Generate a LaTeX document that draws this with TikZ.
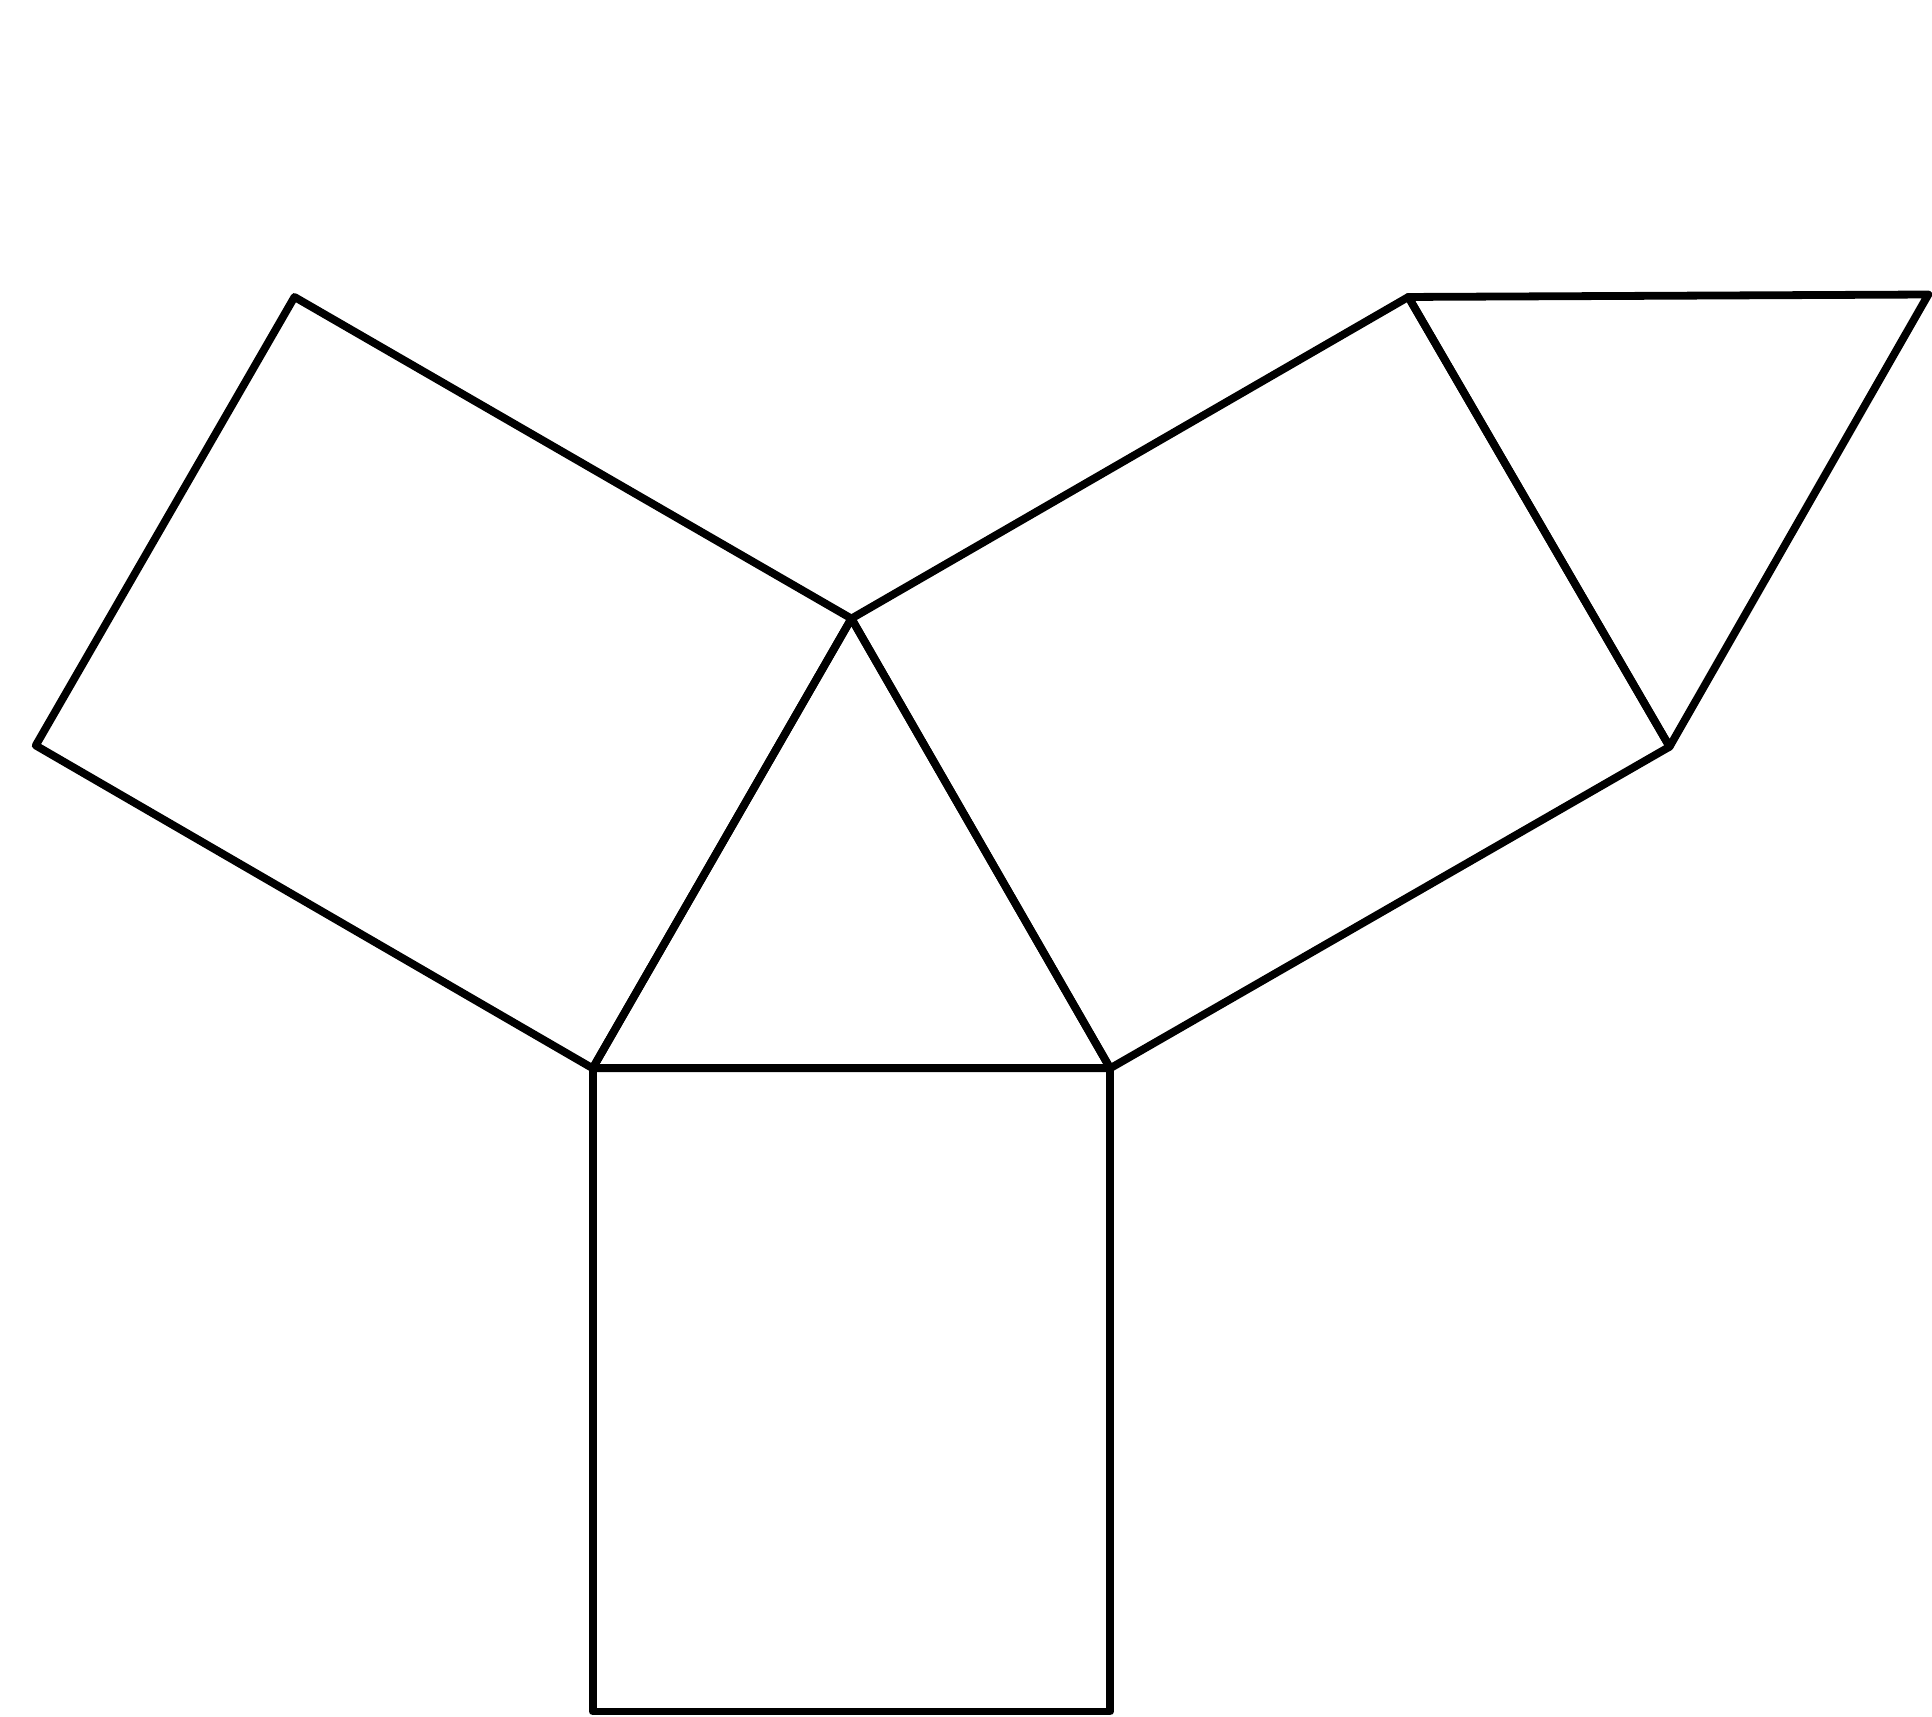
\documentclass[tikz,border=0pt]{standalone}
\usepackage{tikz}
\usetikzlibrary{positioning}

\tikzset{
  shapeline/.style={draw=black, line width=1.8pt, line join=round, line cap=round}
}

\begin{document}
\begin{tikzpicture}
\useasboundingbox (0,0) rectangle (15.68,-13.93);
% Corner points
\coordinate (tl) at (4.81,-8.67);
\coordinate (tr) at (9.01,-8.67);
\coordinate (top) at (6.91,-5.02);
\coordinate (bl) at (4.81,-13.89);
\coordinate (br) at (9.01,-13.89);
\coordinate (lu) at (2.39,-2.41);
\coordinate (ll) at (0.29,-6.05);
\coordinate (ru) at (11.43,-2.41);
\coordinate (rl) at (13.55,-6.06);
\coordinate (far) at (15.65,-2.39);
% Middle triangle
\draw[shapeline] (tl) -- (tr) -- (top) -- cycle;
% Bottom rectangle
\draw[shapeline] (tl) -- (tr) -- (br) -- (bl) -- cycle;
% Left rectangle
\draw[shapeline] (tl) -- (top) -- (lu) -- (ll) -- cycle;
% Right rectangle
\draw[shapeline] (top) -- (tr) -- (rl) -- (ru) -- cycle;
% Outer triangle
\draw[shapeline] (ru) -- (far) -- (rl) -- cycle;
\end{tikzpicture}
\end{document}
